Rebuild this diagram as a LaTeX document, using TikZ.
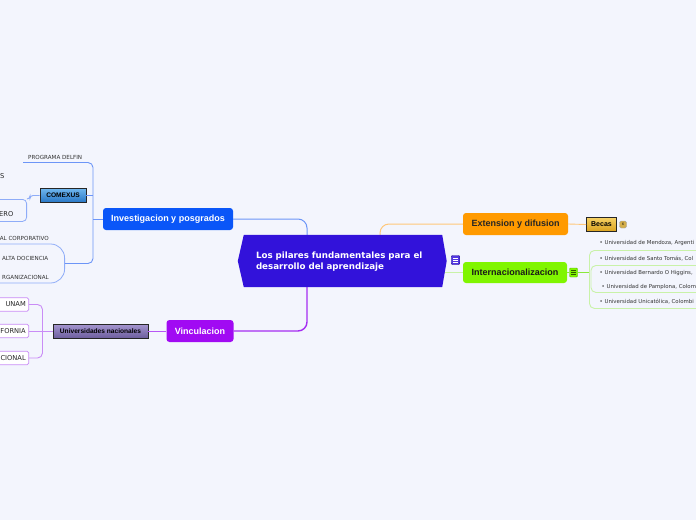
\documentclass[tikz,border=0pt]{standalone}
\usepackage{fontspec}
\setmainfont{Liberation Sans}
\newfontfamily\dv{DejaVu Sans}
\usetikzlibrary{calc}
\definecolor{bg}{HTML}{F3F5FD}
\definecolor{cent}{HTML}{3212DA}
\definecolor{invf}{HTML}{0A56F8}
\definecolor{vinf}{HTML}{A10AF3}
\definecolor{extf}{HTML}{FF9A00}
\definecolor{intf}{HTML}{80F500}
\definecolor{invl}{HTML}{6C95F7}
\definecolor{vinl}{HTML}{A52CF2}
\definecolor{extl}{HTML}{FFC77A}
\definecolor{intl}{HTML}{C9F2A8}
\definecolor{intd}{HTML}{8BE83C}
\definecolor{lbl}{HTML}{8EACF8}
\definecolor{pbl}{HTML}{C98CF6}
\definecolor{txg}{HTML}{333333}
\definecolor{cxt}{HTML}{6FB6EE}
\definecolor{cxb}{HTML}{2776C6}
\definecolor{unt}{HTML}{A596D0}
\definecolor{unb}{HTML}{6D5E9E}
\definecolor{bct}{HTML}{F6D266}
\definecolor{bcb}{HTML}{D9A21E}
\definecolor{bico}{HTML}{D4AE4A}
\definecolor{gico}{HTML}{58B800}
\definecolor{gicl}{HTML}{2E5A00}
\tikzset{
  mainbox/.style={rounded corners=3pt, minimum height=22, inner sep=0, font=\fontsize{9}{10}\selectfont\bfseries},
  subbox/.style={draw=black!85, line width=0.7pt, minimum height=14, inner sep=0, font=\fontsize{6.6}{7}\selectfont\bfseries},
  smallcap/.style={inner sep=0, font=\dv\fontsize{5.6}{6}\selectfont, text=txg},
  leafcap/.style={inner sep=0, font=\dv\fontsize{6.7}{8}\selectfont, text=black!85},
  ibullet/.style={inner sep=0, anchor=west, font=\dv\fontsize{5.4}{6}\selectfont, text=txg},
  pbox/.style={draw=pbl, fill=white, rounded corners=1.5pt, minimum width=40, minimum height=13.5, inner sep=0, anchor=east, line width=0.7pt},
}
\begin{document}
\begin{tikzpicture}[x=1pt,y=-1pt]
\fill[bg] (0,0) rectangle (696,520);
\useasboundingbox (0,0) rectangle (696,520);

% central geometry
\path node[minimum width=198, minimum height=52, inner sep=0] (c) at (343,261) {};

% main nodes
\node[mainbox, fill=invf, text=white, minimum width=130] (inv) at (168,219) {Investigacion y posgrados};
\node[mainbox, fill=vinf, text=white, minimum width=67] (vin) at (200,331) {Vinculacion};
\node[mainbox, fill=extf, text=black!85, minimum width=105] (ext) at (515.5,224) {Extension y difusion};
\node[mainbox, fill=intf, text=black!90, minimum width=104, minimum height=21] (int) at (515,272.5) {Internacionalizacion};

% main connectors
\draw[invl, line width=1pt, rounded corners=9] ([xshift=-36]c.north) |- (inv.east);
\draw[vinl, line width=1.4pt, rounded corners=9] ([xshift=-36]c.south) |- (vin.east);
\draw[extl, line width=1pt, rounded corners=9] ([xshift=37]c.north) |- (ext.west);
\draw[intl, line width=1.4pt] (int.west) -- (int.west -| c.east);

% central node shape
\fill[cent] (c.north west) -- (c.north east) -- ($(c.east)+(4.5,0)$) -- (c.south east) -- (c.south west) -- ($(c.west)+(-6,0)$) -- cycle;
\node[inner sep=0, text width=174, align=left, text=white, font=\dv\fontsize{8.7}{11.2}\selectfont\bfseries] (ct) at (343,261.5) {Los pilares fundamentales para el\\desarrollo del aprendizaje};

% note icon near central
\node[fill=cent!85!white, draw=cent!70!black, line width=0.4pt, rounded corners=1pt, minimum width=8.5, minimum height=9, inner sep=0] (ni1) at (455.5,260) {};
\foreach \dy in {-2,0,2} \draw[white, line width=0.6pt] ($(ni1.center)+(-2.3,\dy)$) -- ($(ni1.center)+(2.3,\dy)$);

% ---------- Investigacion branch ----------
\coordinate (pdl) at (23,162.5);
\coordinate (jv) at (93,219);
\node[subbox, minimum width=46, top color=cxt, bottom color=cxb] (comex) at (63,195.5) {COMEXUS};
\node[draw=lbl, line width=0.8pt, rounded corners=14, minimum width=100, minimum height=39, inner sep=0, anchor=east] (grp) at (65,263.5) {};
\draw[invl, line width=0.9pt, rounded corners=5] (pdl) -| (jv) |- (grp.east);
\draw[invl, line width=0.9pt] (inv.west) -- (jv);
\draw[invl, line width=0.9pt] (comex.east) -- (comex.east -| jv);
\node[smallcap, anchor=west] (pd) at (28,157) {PROGRAMA DELFIN};

\node[draw=lbl, line width=0.8pt, rounded corners=4, minimum width=40, minimum height=22, inner sep=0, anchor=north east] (ero) at (27,199) {};
\draw[lbl, line width=0.9pt, rounded corners=3] (comex.west) -| ([xshift=3]ero.north east) -- (ero.north east);
\node[leafcap, anchor=east] (erot) at (13.5,214.5) {ERO};
\node[leafcap, anchor=east] (st) at (4.5,176.5) {S};

\node[smallcap, anchor=east] (g1) at (49,238) {AL CORPORATIVO};
\node[smallcap, anchor=east] (g2) at (48.5,258) {ALTA DOCIENCIA};
\node[smallcap, anchor=east] (g3) at (49,277.5) {RGANIZACIONAL};

% ---------- Vinculacion branch ----------
\node[subbox, minimum width=95, top color=unt, bottom color=unb] (un) at (100.5,331) {Universidades nacionales};
\draw[vinl!80, line width=0.9pt] (vin.west) -- (un.east);
\node[pbox] (unam) at (29,304.5) {};
\node[pbox] (forn) at (29,331) {};
\node[pbox] (cion) at (29,358) {};
\coordinate (jv2) at (42.5,331);
\draw[pbl, line width=0.9pt, rounded corners=5] (unam.east) -| (jv2) |- (cion.east);
\draw[pbl, line width=0.9pt] (forn.east) -- (un.west);
\node[leafcap, anchor=east] (unamt) at (26,304.5) {UNAM};
\node[leafcap, anchor=east] (fornt) at (26,331) {FORNIA};
\node[leafcap, anchor=east] (ciont) at (26,358) {CIONAL};

% ---------- Extension branch ----------
\node[subbox, minimum width=30, minimum height=14.5, top color=bct, bottom color=bcb, font=\fontsize{7}{8}\selectfont\bfseries] (becas) at (601.5,224.5) {Becas};
\draw[extl, line width=0.9pt] (ext.east) -- (becas.west);
\node[fill=bico, draw=gray!70, line width=0.4pt, rounded corners=1.5pt, minimum width=7, minimum height=7, inner sep=0, font=\fontsize{3.5}{4}\selectfont] (bicon) at (623,224.5) {6};

% ---------- Internacionalizacion branch ----------
\node[fill=intf, draw=gico, line width=0.4pt, rounded corners=1pt, minimum width=8, minimum height=9, inner sep=0] (ni2) at (573.5,272.5) {};
\foreach \dy in {-2,0,2} \draw[gicl, line width=0.6pt] ($(ni2.center)+(-2.2,\dy)$) -- ($(ni2.center)+(2.2,\dy)$);
\draw[intd, line width=1.3pt] (int.east) -- (ni2.west);
\node[draw=intl, line width=0.9pt, rounded corners=5, minimum width=150, minimum height=58, inner sep=0, anchor=north west] (io) at (589,250) {};
\node[draw=intl, line width=0.9pt, rounded corners=5, minimum width=150, minimum height=27, inner sep=0, anchor=north west] (ii) at (590.5,265) {};
\draw[intd, line width=1.3pt] (ni2.east) -- (ni2.east -| io.west);
\node[ibullet] (b1) at (599.5,243.5) {• Universidad de Mendoza, Argenti};
\node[ibullet] (b2) at (599.5,259) {• Universidad de Santo Tomás, Col};
\node[ibullet] (b3) at (599.5,273.5) {• Universidad Bernardo O Higgins,};
\node[ibullet] (b4) at (601.5,287.5) {• Universidad de Pamplona, Colom};
\node[ibullet] (b5) at (599.5,302) {• Universidad Unicatólica, Colombi};
\end{tikzpicture}
\end{document}
